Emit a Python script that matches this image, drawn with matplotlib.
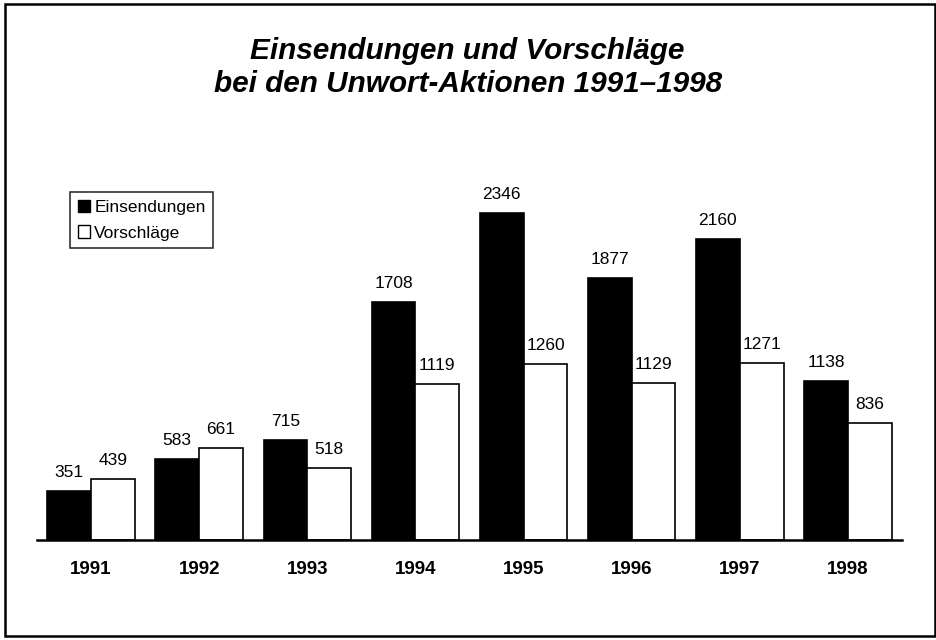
import matplotlib
matplotlib.use("Agg")
import matplotlib.pyplot as plt
import numpy as np
from matplotlib.patches import Patch, Rectangle

years = ["1991", "1992", "1993", "1994", "1995", "1996", "1997", "1998"]
einsendungen = [351, 583, 715, 1708, 2346, 1877, 2160, 1138]
vorschlaege = [439, 661, 518, 1119, 1260, 1129, 1271, 836]

plt.rcParams['font.family'] = ['Liberation Sans', 'DejaVu Sans']

fig = plt.figure(figsize=(9.37, 6.4), dpi=100)
fig.patch.set_facecolor("white")
fig.patches.append(Rectangle((5/937, 4/640), 930/937, 632/640, transform=fig.transFigure,
                             fill=False, edgecolor="black", linewidth=1.8))

ax = fig.add_axes([37/937, 1-540/640, 865/937, 362/640])
x = np.arange(len(years))
w = 0.405
b1 = ax.bar(x - w/2, einsendungen, w, color="black", edgecolor="black", linewidth=1.2)
b2 = ax.bar(x + w/2, vorschlaege, w, color="white", edgecolor="black", linewidth=1.2)
ax.set_xlim(-0.5, 7.5)
ax.set_ylim(0, 2597)
for s in ["top", "right", "left"]:
    ax.spines[s].set_visible(False)
ax.spines["bottom"].set_linewidth(1.8)
ax.set_yticks([])
ax.set_xticks(x)
ax.set_xticklabels(years, fontsize=13.5, fontweight="bold")
ax.tick_params(axis="x", length=0, pad=15)

for rects, vals in ((b1, einsendungen), (b2, vorschlaege)):
    for r, v in zip(rects, vals):
        ax.annotate(str(v), (r.get_x() + r.get_width()/2, v), xytext=(0, 8),
                    textcoords="offset points", ha="center", va="bottom", fontsize=12.5)

fig.text(0.499, 1-59/640, "Einsendungen und Vorschläge", ha="center", va="baseline",
         fontsize=21.4, fontweight="bold", fontstyle="italic")
fig.text(0.499, 1-92/640, "bei den Unwort-Aktionen 1991–1998", ha="center", va="baseline",
         fontsize=21.4, fontweight="bold", fontstyle="italic")

handles = [Patch(facecolor="black", edgecolor="black", label="Einsendungen"),
           Patch(facecolor="white", edgecolor="black", label="Vorschläge")]
leg = fig.legend(handles=handles, loc="upper left", bbox_to_anchor=(70/937, 1-192/640),
                 fontsize=12.5, frameon=True, fancybox=False, edgecolor="black",
                 handlelength=0.7, handleheight=0.7, handletextpad=0.25,
                 borderpad=0.45, labelspacing=0.6, borderaxespad=0)
leg.get_frame().set_linewidth(1.2)

fig.savefig("out.png", dpi=100)
